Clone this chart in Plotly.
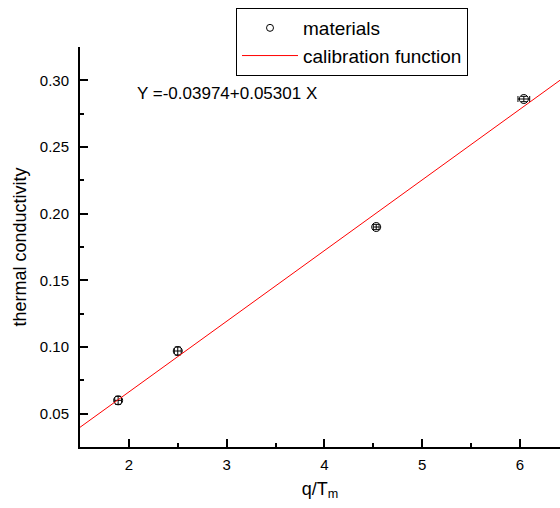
import plotly.graph_objects as go
import numpy as np

# data
x_vals = [1.89, 2.50, 4.53, 6.04]
y_vals = [0.060, 0.097, 0.190, 0.286]
x_err = [0.035, 0.035, 0.03, 0.06]
y_err = [0.003, 0.003, 0.002, 0.002]
intercept = -0.03974
slope = 0.05301
x_range = [1.5, 6.41]
y_range = [0.025, 0.325]
x_ticks = [2, 3, 4, 5, 6]
y_ticks = [0.05, 0.10, 0.15, 0.20, 0.25, 0.30]
y_ticklabels = ["0.05", "0.10", "0.15", "0.20", "0.25", "0.30"]

FONT = "Liberation Sans, Arial, sans-serif"

line_x = np.array(x_range)
line_y = intercept + slope * line_x

fig = go.Figure()
fig.add_trace(go.Scatter(
    x=x_vals, y=y_vals, mode="markers", name="materials", showlegend=False,
    marker=dict(symbol="circle-open", size=9, color="black", line=dict(width=1)),
    error_x=dict(type="data", array=x_err, color="black", thickness=1, width=3),
    error_y=dict(type="data", array=y_err, color="black", thickness=1, width=3),
))
# legend entry for the materials (smaller symbol as in the reference)
fig.add_trace(go.Scatter(
    x=[None], y=[None], mode="markers", name="materials",
    marker=dict(symbol="circle-open", size=7, color="black", line=dict(width=1)),
))
fig.add_trace(go.Scatter(
    x=line_x, y=line_y, mode="lines", name="calibration function",
    line=dict(color="red", width=1),
))

fig.add_annotation(
    x=(135 - 80) / 480, y=(447 - 93) / 400, xref="paper", yref="paper",
    xanchor="left", yanchor="middle",
    text="Y =-0.03974+0.05301 X", showarrow=False,
    font=dict(size=17, color="black", family=FONT),
)

tick_common = dict(
    showgrid=False, zeroline=False, showline=True, linecolor="black", linewidth=2,
    ticks="inside", ticklen=8, tickwidth=1.5, tickcolor="black",
    tickfont=dict(size=15, color="black", family=FONT),
)

fig.update_layout(
    width=560, height=508,
    margin=dict(l=80, r=0, t=47, b=61),
    paper_bgcolor="white", plot_bgcolor="white",
    font=dict(family=FONT, color="black"),
    xaxis=dict(range=x_range, tickvals=x_ticks,
               title=dict(text="q/T<sub>m</sub>", font=dict(size=18), standoff=10),
               ticklabelstandoff=3,
               minor=dict(ticks="inside", ticklen=4, tickwidth=1.5, tickcolor="black", dtick=0.5, tick0=1.5),
               **tick_common),
    yaxis=dict(range=y_range, tickvals=y_ticks, ticktext=y_ticklabels,
               title=dict(text="thermal conductivity", font=dict(size=18), standoff=8),
               ticklabelstandoff=6,
               minor=dict(ticks="inside", ticklen=4, tickwidth=1.5, tickcolor="black", dtick=0.025, tick0=0.025),
               **tick_common),
    legend=dict(x=(236 - 80) / 480, y=(447 - 8) / 400, xanchor="left", yanchor="top",
                bordercolor="black", borderwidth=1, bgcolor="white",
                font=dict(size=19, color="black", family=FONT), tracegroupgap=0,
                itemwidth=56),
    showlegend=True,
)

fig.write_html("out.html")
